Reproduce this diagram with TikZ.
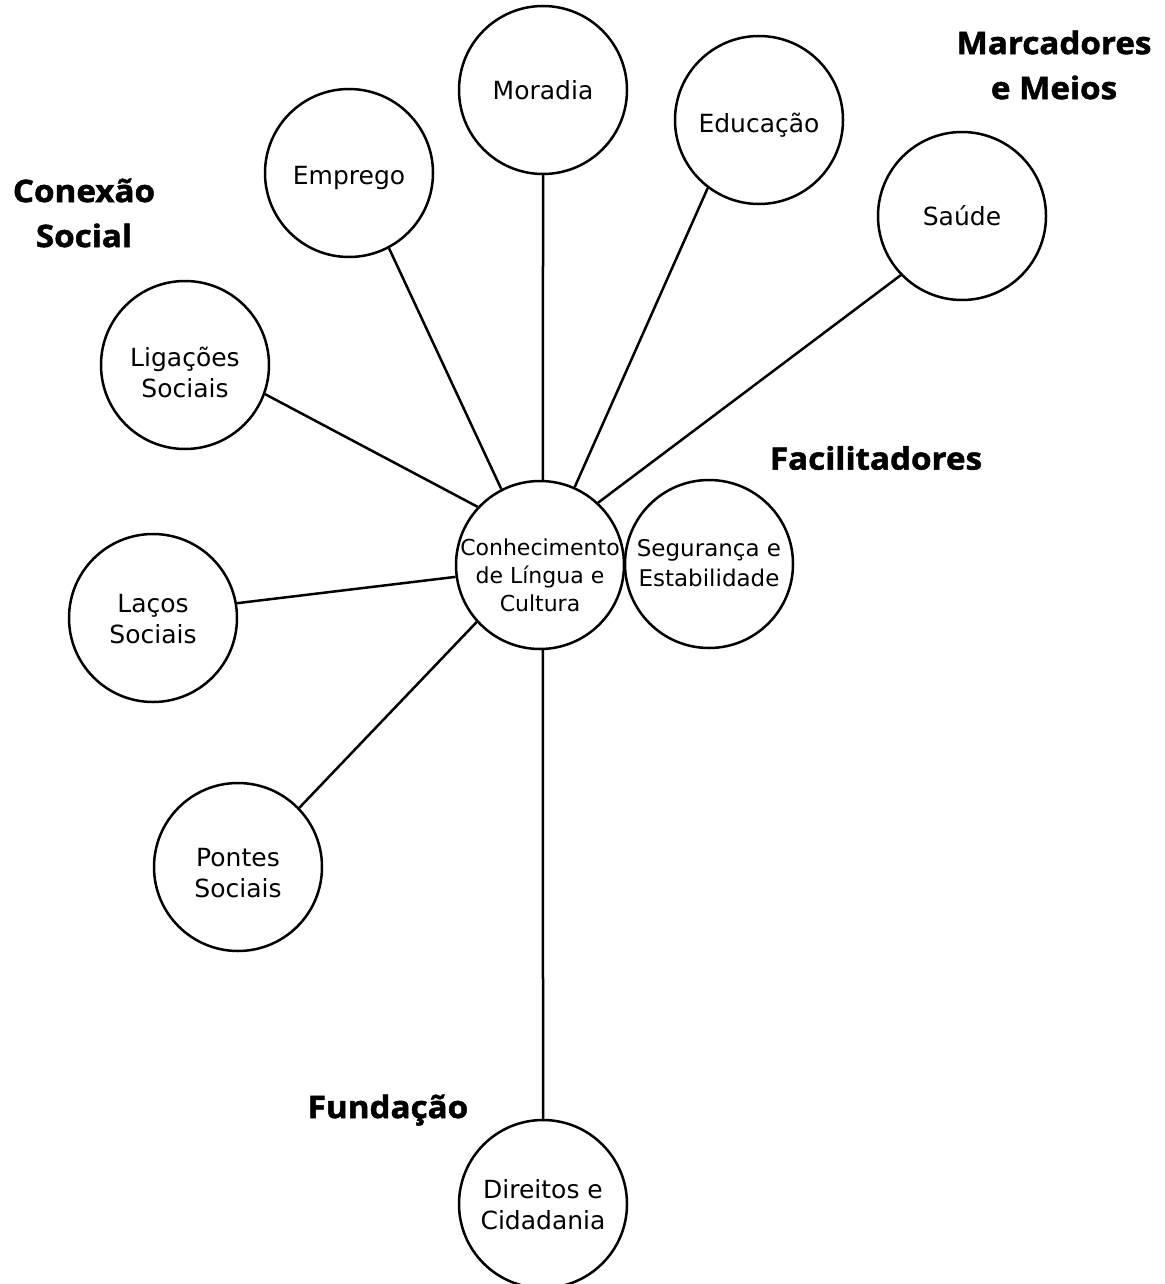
\documentclass[tikz,border=0pt]{standalone}
\usepackage{fontspec}
\setmainfont{DejaVu Sans}
\newfontfamily\labfont[FakeStretch=1.07,FakeBold=1.6]{Open Sans}
\begin{document}
\begin{tikzpicture}[x=1pt,y=-1pt,
  bub/.style={draw, circle, line width=2.5pt, minimum size=168pt, inner sep=0pt},
  txt/.style={align=center, inner sep=0pt, font=\fontsize{25}{31}\selectfont},
  ctxt/.style={align=center, inner sep=0pt, font=\fontsize{22}{28}\selectfont},
  link/.style={line width=2.5pt},
  grp/.style={align=center, inner sep=0pt, font=\labfont\bfseries\fontsize{31}{45}\selectfont}]
\useasboundingbox (0,0) rectangle (1164,1284);
\fill[white] (0,0) rectangle (1164,1284);

\node[bub] (C) at (540,565) {};
\node[ctxt] (Ct) at ([yshift=-10pt]C.center) {Conhecimento\\de Língua e\\Cultura};
\node[bub] (seg) at (709,564) {};
\node[txt, font=\fontsize{23}{30}\selectfont] (segt) at ([yshift=1pt]seg.center) {Segurança e\\Estabilidade};
\node[bub] (mor) at (543,90) {};
\node[txt] (mort) at (mor.center) {Moradia};
\node[bub] (edu) at (759,120) {};
\node[txt] (edut) at ([yshift=-5pt]edu.center) {Educação};
\node[bub] (emp) at (349,173) {};
\node[txt] (empt) at ([yshift=-5pt]emp.center) {Emprego};
\node[bub] (sau) at (962,216) {};
\node[txt] (saut) at (sau.center) {Saúde};
\node[bub] (lig) at (185,365) {};
\node[txt] (ligt) at ([yshift=-7pt]lig.center) {Ligações\\Sociais};
\node[bub] (lac) at (153,618) {};
\node[txt] (lact) at ([yshift=-1pt]lac.center) {Laços\\Sociais};
\node[bub] (pon) at (238,867) {};
\node[txt] (pont) at ([yshift=-6pt]pon.center) {Pontes\\Sociais};
\node[bub] (dir) at (543,1204) {};
\node[txt] (dirt) at ([yshift=-1pt]dir.center) {Direitos e\\Cidadania};

\draw[link] (C.88) -- (mor.270);
\draw[link] (C.117) -- (emp.298);
\draw[link] (C.66) -- (edu.233);
\draw[link] (C.47) -- (sau.224.5);
\draw[link] (C.137) -- (lig.340.7);
\draw[link] (C.188) -- (lac.10.7);
\draw[link] (C.222.6) -- (pon.44.5);
\draw[link] (C.272) -- (dir.90);

\node[grp] (g1) at (84,213) {Conexão\\Social};
\node[grp] (g2) at (1054,65) {Marcadores\\e Meios};
\node[grp] (g3) at (876,458) {Facilitadores};
\node[grp] (g4) at (388,1110) {Fundação};
\end{tikzpicture}
\end{document}
